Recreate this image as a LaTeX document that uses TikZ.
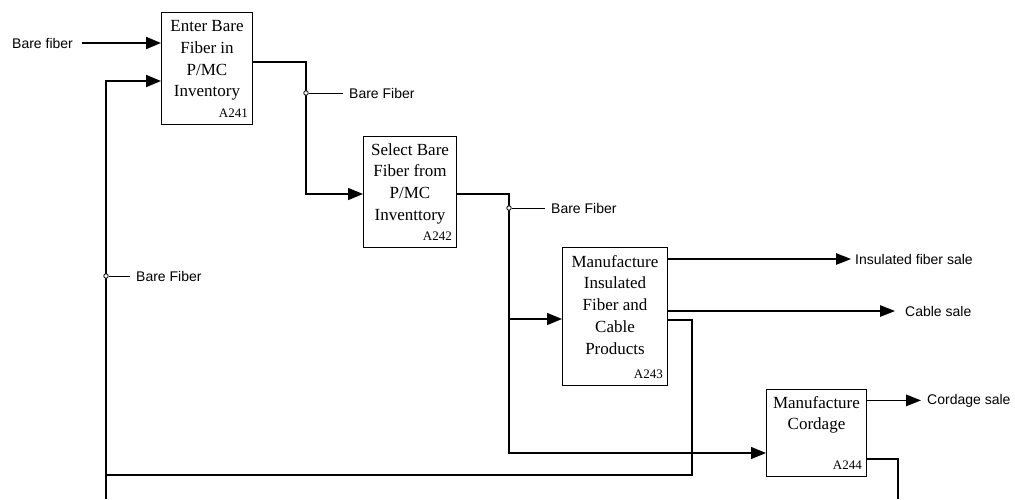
\documentclass[tikz,border=0pt]{standalone}
\usepackage{fontspec}
\setmainfont{Liberation Serif}
\newfontfamily\lsans{Liberation Sans}
\usetikzlibrary{arrows.meta}
\begin{document}
\begin{tikzpicture}[x=1pt,y=-1pt,
 box/.style={draw=black, line width=1pt, inner sep=0pt, anchor=north west},
 boxtext/.style={anchor=north, inner sep=0pt, align=center, font=\fontsize{17}{21.7}\selectfont},
 code/.style={anchor=base east, inner sep=0pt, font=\fontsize{13}{15}\selectfont},
 lbl/.style={anchor=base west, inner sep=0pt, font=\lsans\fontsize{14}{16}\selectfont},
 flow/.style={line width=1.5pt},
 heavy/.style={line width=2pt},
 thinflow/.style={line width=1.2pt},
 tip/.style={-{Triangle[length=15pt,width=12pt]}},
 smalltip/.style={-{Triangle[length=15pt,width=11.5pt]}},
 dot/.style={circle, draw, line width=0.8pt, fill=white, inner sep=0pt, minimum size=4.5pt},
 tag/.style={line width=1pt},
]
\useasboundingbox (0,0) rectangle (1015,499);

% boxes
\node[box, minimum width=91pt, minimum height=112pt] (a241) at (161,12) {};
\node[box, minimum width=93pt, minimum height=111pt] (a242) at (363,136) {};
\node[box, minimum width=105pt, minimum height=138pt] (a243) at (562,247) {};
\node[box, minimum width=100pt, minimum height=87pt] (a244) at (766,389) {};

\node[boxtext] (t241) at ([yshift=-7.5pt]a241.north) {\rule{0pt}{12pt}Enter Bare\\Fiber in\\P/MC\\Inventory};
\node[boxtext] (t242) at ([yshift=-7pt]a242.north) {\rule{0pt}{12pt}Select Bare\\Fiber from\\P/MC\\Inventtory};
\node[boxtext] (t243) at ([yshift=-8pt]a243.north) {\rule{0pt}{12pt}Manufacture\\Insulated\\Fiber and\\Cable\\Products};
\node[boxtext] (t244) at ([yshift=-7pt]a244.north) {\rule{0pt}{12pt}Manufacture\\Cordage};

\node[code] (c241) at ([xshift=-5pt,yshift=8pt]a241.south east) {A241};
\node[code] (c242) at ([xshift=-5pt,yshift=8pt]a242.south east) {A242};
\node[code] (c243) at ([xshift=-5pt,yshift=8pt]a243.south east) {A243};
\node[code] (c244) at ([xshift=-5pt,yshift=8pt]a244.south east) {A244};

% labels
\node[lbl] (lbfin) at (12,48) {Bare fiber};
\node[lbl] (l1) at (136,281) {Bare Fiber};
\node[lbl] (l2) at (349,98) {Bare Fiber};
\node[lbl] (l3) at (551,213) {Bare Fiber};
\node[lbl] (lins) at (855,264) {Insulated fiber sale};
\node[lbl] (lcab) at (905,316) {Cable sale};
\node[lbl] (lcord) at (927,404) {Cordage sale};

% bend coordinates
\coordinate (fbBot) at (106,499);
\coordinate (fbIn) at (106,81);
\coordinate (j1a) at (306,62);
\coordinate (j1b) at (306,194);
\coordinate (j2a) at (509,194);
\coordinate (j2b) at (509,453);
\coordinate (j2c) at (509,319);
\coordinate (r3a) at (692,320);
\coordinate (r3b) at (692,475);
\coordinate (r3c) at (106,475);
\coordinate (r4a) at (898,459);
\coordinate (r4b) at (898,499);

% connectors
\draw[heavy,tip,shorten <=9pt] (lbfin.east) -- (a241.west |- lbfin.east);
\draw[heavy,tip] (fbBot) -- (fbIn) -- (a241.west |- fbIn);
\draw[flow,tip] (a241.east |- j1a) -- (j1a) -- (j1b) -- (a242.west |- j1b);
\draw[flow,tip] (a242.east |- j2a) -- (j2a) -- (j2b) -- (a244.west |- j2b);
\draw[flow,tip] (j2c) -- (a243.west |- j2c);
\draw[thinflow,smalltip,shorten >=4pt] (a243.east |- lins.west) -- (lins.west);
\draw[thinflow,smalltip,shorten >=10pt] (a243.east |- lcab.west) -- (lcab.west);
\draw[flow] (a243.east |- r3a) -- (r3a) -- (r3b) -- (r3c);
\draw[flow,smalltip,shorten >=6pt] (a244.east |- lcord.west) -- (lcord.west);
\draw[thinflow] (a244.east |- r4a) -- (r4a) -- (r4b);

% tag lines and dots
\node[dot] (d1) at (106,276) {};
\node[dot] (d2) at (306,93) {};
\node[dot] (d3) at (509,208) {};
\draw[tag,shorten >=6pt] (d1) -- (l1.west |- d1);
\draw[tag,shorten >=6pt] (d2) -- (l2.west |- d2);
\draw[tag,shorten >=6pt] (d3) -- (l3.west |- d3);
\end{tikzpicture}
\end{document}
